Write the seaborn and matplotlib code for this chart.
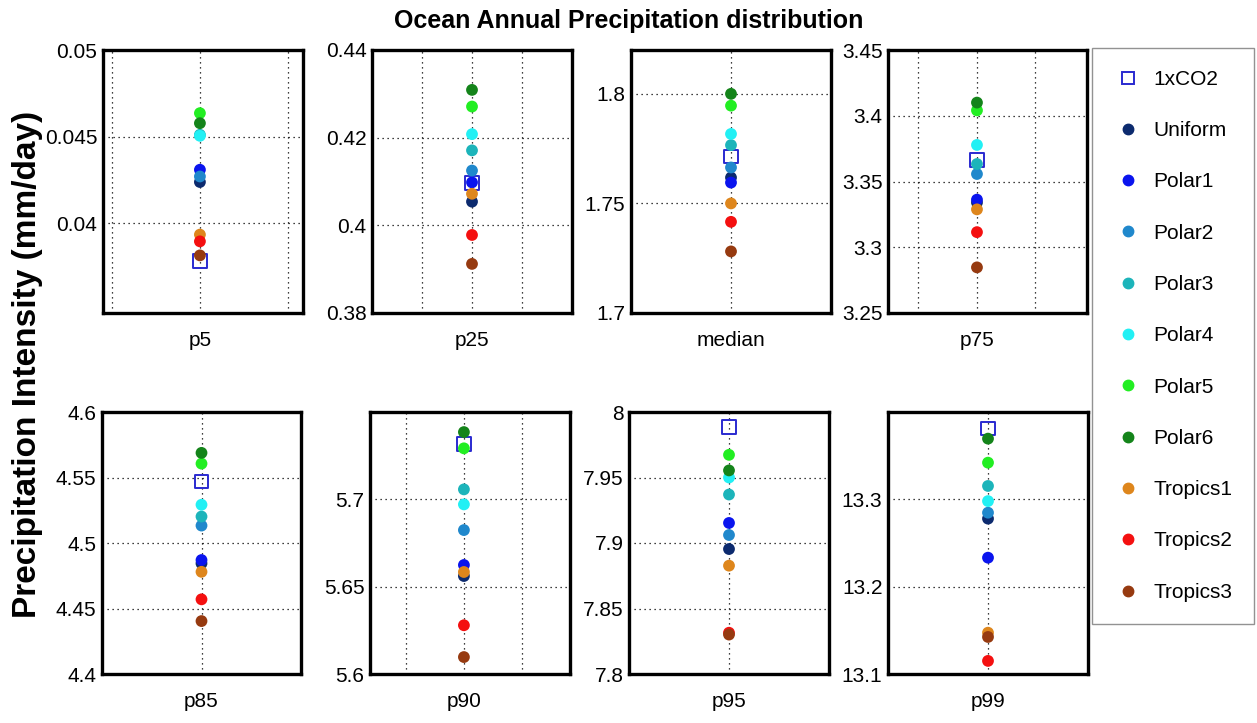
import matplotlib
matplotlib.use('Agg')
import matplotlib.pyplot as plt
from matplotlib.lines import Line2D
from matplotlib.ticker import FuncFormatter
import pandas as pd
import seaborn as sns

# Percentile statistics shown in each panel
stats = ['p5', 'p25', 'median', 'p75', 'p85', 'p90', 'p95', 'p99']

# Values per experiment, one per statistic (mm/day)
co2_1x = [0.0378, 0.4096, 1.7714, 3.3663, 4.5471, 5.7318, 7.9885, 13.3813]
uniform = [0.04237, 0.4054, 1.7618, 3.3340, 4.4844, 5.6561, 7.8954, 13.2779]
polar1 = [0.04308, 0.4098, 1.7595, 3.3362, 4.4870, 5.6624, 7.9153, 13.2332]
polar2 = [0.04269, 0.4125, 1.7664, 3.3557, 4.5133, 5.6824, 7.9061, 13.2847]
polar3 = [0.04510, 0.4171, 1.7766, 3.3633, 4.5202, 5.7057, 7.9370, 13.3153]
polar4 = [0.04504, 0.4208, 1.7817, 3.3778, 4.5292, 5.6971, 7.9500, 13.2980]
polar5 = [0.04635, 0.4271, 1.7946, 3.4041, 4.5606, 5.7292, 7.9673, 13.3420]
polar6 = [0.04577, 0.4309, 1.8000, 3.4100, 4.5688, 5.7385, 7.9554, 13.3695]
tropics1 = [0.03933, 0.4072, 1.7500, 3.3288, 4.4780, 5.6584, 7.8827, 13.1473]
tropics2 = [0.03894, 0.3978, 1.7416, 3.3115, 4.4570, 5.6279, 7.8315, 13.1150]
tropics3 = [0.03813, 0.3912, 1.7281, 3.2847, 4.4404, 5.6097, 7.8301, 13.1424]

models = ['1xCO2', 'Uniform', 'Polar1', 'Polar2', 'Polar3', 'Polar4',
          'Polar5', 'Polar6', 'Tropics1', 'Tropics2', 'Tropics3']
series = [co2_1x, uniform, polar1, polar2, polar3, polar4,
          polar5, polar6, tropics1, tropics2, tropics3]

# y-axis limits and ticks for each panel
ylims = [(0.0348, 0.05), (0.38, 0.44), (1.7, 1.82), (3.25, 3.45),
         (4.4, 4.6), (5.6, 5.75), (7.8, 8.0), (13.1, 13.4)]
yticks = [[0.04, 0.045, 0.05], [0.38, 0.40, 0.42, 0.44], [1.7, 1.75, 1.8],
          [3.25, 3.3, 3.35, 3.4, 3.45], [4.4, 4.45, 4.5, 4.55, 4.6],
          [5.6, 5.65, 5.7], [7.8, 7.85, 7.9, 7.95, 8.0], [13.1, 13.2, 13.3]]

colors = {'1xCO2': '#2a2ad0', 'Uniform': '#0c2a6e', 'Polar1': '#0a14ee',
          'Polar2': '#2088cc', 'Polar3': '#1cb4ba', 'Polar4': '#22f0f4',
          'Polar5': '#22ee22', 'Polar6': '#14841a', 'Tropics1': '#de861c',
          'Tropics2': '#f41010', 'Tropics3': '#963a10'}

# long-form table
rows = []
for m, vals in zip(models, series):
    for st, v in zip(stats, vals):
        rows.append({'model': m, 'stat': st, 'value': v, 'pos': 0})
df = pd.DataFrame(rows)

sns.set_theme(style='white')
plt.rcParams['font.family'] = ['Liberation Sans Narrow', 'Liberation Sans', 'DejaVu Sans']
plt.rcParams['text.color'] = 'black'

fig = plt.figure(figsize=(12.57, 7.23), dpi=100)
W, H = 1257, 723

# panel boxes in pixels: left, top, right, bottom
boxes = [(103, 50, 303, 313), (372, 50, 572, 313), (631, 50, 831, 313), (888, 50, 1087, 313),
         (102, 412, 301, 674), (370, 412, 570, 674), (629, 412, 829, 674), (888, 412, 1088, 674)]
xlims = [(-1.10, 1.17), (-2, 2), (-1, 1), (-1.52, 1.88),
         (-1, 1), (-1.62, 1.83), (-1, 1), (-1, 1)]
xgrid = [[-1, 0, 1], [-1, 0, 1], [0], [-1, 0, 1], [0], [-1, 0, 1], [0], [0]]

fmt = FuncFormatter(lambda v, p: '{:g}'.format(round(v, 4)))

for i, st in enumerate(stats):
    l, t, r, b = boxes[i]
    ax = fig.add_axes([l / W, 1 - b / H, (r - l) / W, (b - t) / H])
    sub = df[df.stat == st]
    ref = sub[sub.model == '1xCO2']
    exp = sub[sub.model != '1xCO2']
    sns.scatterplot(data=ref, x='pos', y='value', marker='s', s=95,
                    facecolors='none', edgecolor=colors['1xCO2'], linewidth=1.4,
                    ax=ax, legend=False, zorder=3)
    sns.scatterplot(data=exp, x='pos', y='value', hue='model', hue_order=models[1:],
                    palette=colors, s=72, linewidth=0, ax=ax, legend=False, zorder=4)
    ax.set_xlim(*xlims[i])
    ax.set_ylim(*ylims[i])
    ax.set_xticks(xgrid[i])
    ax.set_xticklabels([st if x == 0 else '' for x in xgrid[i]])
    ax.set_yticks(yticks[i])
    ax.yaxis.set_major_formatter(fmt)
    ax.grid(True, color='black', linestyle=(0, (1, 3)), linewidth=0.9)
    ax.set_axisbelow(True)
    ax.set_xlabel('')
    ax.set_ylabel('')
    for sp in ax.spines.values():
        sp.set_color('black')
        sp.set_linewidth(2.4)
    ax.tick_params(axis='both', direction='in', length=3, width=1, colors='black',
                   labelsize=15, labelcolor='black')
    ax.tick_params(axis='x', pad=13)
    ax.tick_params(axis='y', pad=4)

fig.text(629 / W, 1 - 21 / H, 'Ocean Annual Precipitation distribution',
         ha='center', va='center', fontsize=18, fontweight='bold')
fig.text(28 / W, 1 - 364 / H, 'Precipitation Intensity (mm/day)',
         ha='center', va='center', rotation=90, fontsize=24, fontweight='bold',
         family=['Liberation Sans', 'DejaVu Sans'])

handles = [Line2D([], [], marker='s', linestyle='', markerfacecolor='none',
                  markeredgecolor=colors['1xCO2'], markersize=9, markeredgewidth=1.4,
                  label='1xCO2')]
for m in models[1:]:
    handles.append(Line2D([], [], marker='o', linestyle='', markerfacecolor=colors[m],
                          markeredgecolor=colors[m], markersize=7.5, label=m))
leg = fig.legend(handles=handles, loc='upper left', bbox_to_anchor=(1092 / W, 1 - 48 / H),
                 borderaxespad=0, frameon=True, fancybox=False, fontsize=15,
                 labelspacing=1.55, handletextpad=0.5, borderpad=1.05, handlelength=1.4)
leg.get_frame().set_edgecolor('#777777')
leg.get_frame().set_linewidth(1.0)

fig.savefig('out.png', dpi=100, facecolor='white')
